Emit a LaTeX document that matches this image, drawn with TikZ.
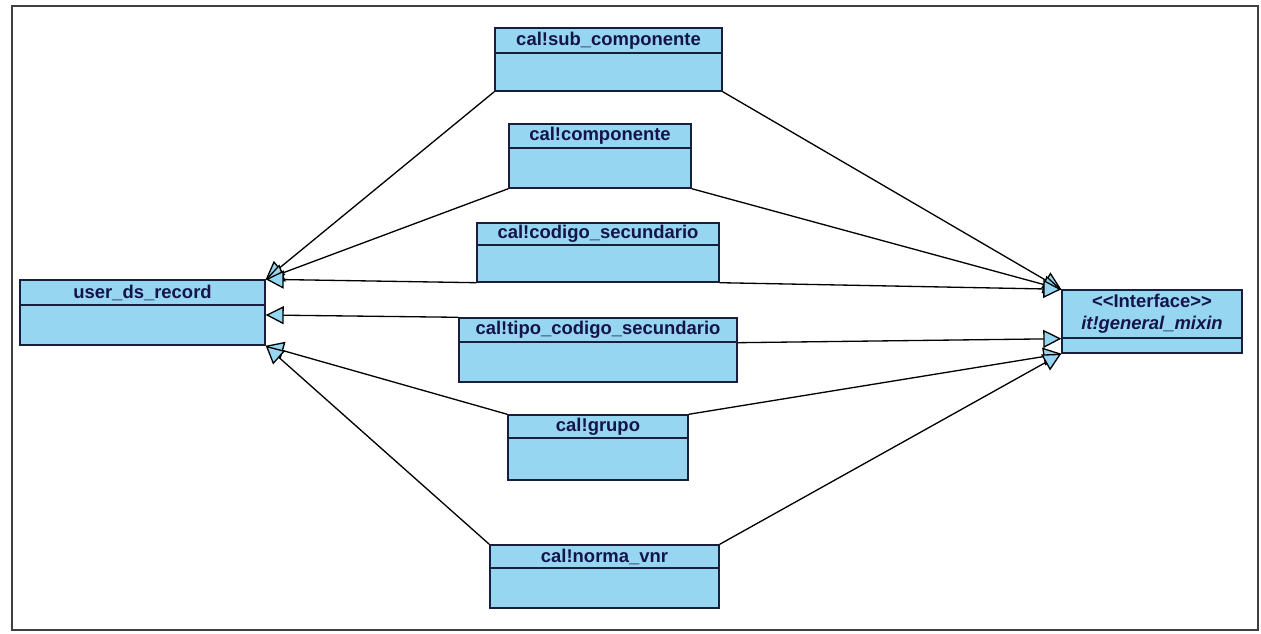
\documentclass[tikz,border=0pt]{standalone}
\usepackage{fontspec}
\setmainfont{Liberation Sans}
\usetikzlibrary{fit,arrows.meta}
\definecolor{classfill}{RGB}{150,214,240}
\definecolor{classline}{RGB}{25,30,60}
\definecolor{classtext}{RGB}{20,20,75}
\tikzset{
  classpart/.style={draw=classline, fill=classfill, line width=0.8pt, inner sep=0pt},
  classname/.style={font=\bfseries\fontsize{10.5}{12.5}\selectfont, text=classtext, inner sep=0pt},
  inherit/.style={line width=0.75pt, -{Triangle[length=0.36cm, width=0.36cm, fill=classfill]}},
  frame/.style={draw=black!75, line width=1.2pt}
}
\begin{document}
\begin{tikzpicture}[x=0.02cm, y=-0.02cm]
\useasboundingbox (0,0) rectangle (1261,634);

%frame
\draw[frame] (12,6) rectangle (1258,630);

%classes
\node[classpart, fit={(20,280) (265,305)}] (userhead) {};
\node[classpart, fit={(20,305) (265,345)}] (user) {};
\node[classname] (usertitle) at (userhead) {user\_ds\_record};

\node[classpart, fit={(1062,290) (1242,338)}] (ifhead) {};
\node[classpart, fit={(1062,338) (1242,353)}] (if) {};
\node[classname, align=center] (iftitle) at (ifhead) {{<}{<}Interface{>}{>}\\\textit{it!general\_mixin}};

\node[classpart, fit={(495,28) (722,53)}] (subhead) {};
\node[classpart, fit={(495,53) (722,91)}] (sub) {};
\node[classname] (subtitle) at (subhead) {cal!sub\_componente};

\node[classpart, fit={(509,124) (691,148)}] (comphead) {};
\node[classpart, fit={(509,148) (691,188)}] (comp) {};
\node[classname] (comptitle) at (comphead) {cal!componente};

\node[classpart, fit={(477,223) (719,245)}] (codhead) {};
\node[classpart, fit={(477,245) (719,282)}] (cod) {};
\node[classname] (codtitle) at (codhead) {cal!codigo\_secundario};

\node[classpart, fit={(459,318) (737,342)}] (tipohead) {};
\node[classpart, fit={(459,342) (737,382)}] (tipo) {};
\node[classname] (tipotitle) at (tipohead) {cal!tipo\_codigo\_secundario};

\node[classpart, fit={(508,415) (688,438)}] (grupohead) {};
\node[classpart, fit={(508,438) (688,480)}] (grupo) {};
\node[classname] (grupotitle) at (grupohead) {cal!grupo};

\node[classpart, fit={(490,545) (719,568)}] (normahead) {};
\node[classpart, fit={(490,568) (719,608)}] (norma) {};
\node[classname] (normatitle) at (normahead) {cal!norma\_vnr};

%generalisations to user_ds_record
\draw[inherit] (sub.south west) -- (userhead.north east);
\draw[inherit] (comp.south west) -- (userhead.north east);
\draw[inherit] (cod.south west) -- (userhead.north east);
\draw[inherit] (tipohead.north west) -- ([yshift=0.2cm]user.east);
\draw[inherit] (grupohead.north west) -- (user.south east);
\draw[inherit] (normahead.north west) -- (user.south east);

%realisations of the interface
\draw[inherit] (sub.south east) -- (ifhead.north west);
\draw[inherit] (comp.south east) -- (ifhead.north west);
\draw[inherit] (cod.south east) -- (ifhead.north west);
\draw[inherit] (tipohead.south east) -- (ifhead.south west);
\draw[inherit] (grupohead.north east) -- (if.south west);
\draw[inherit] (normahead.north east) -- (if.south west);
\end{tikzpicture}
\end{document}
